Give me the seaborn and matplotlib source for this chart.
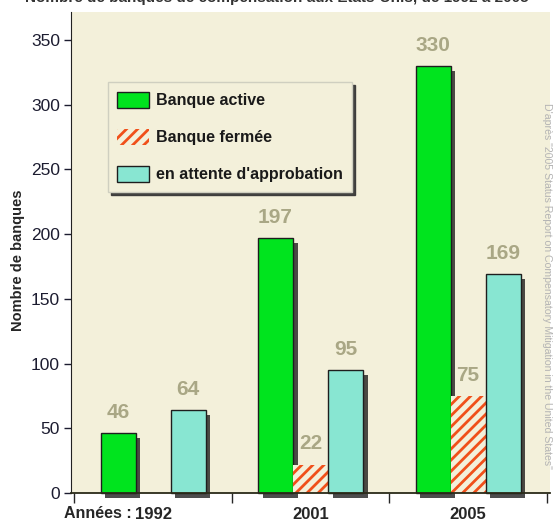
import numpy as np
import pandas as pd
import matplotlib
matplotlib.use("Agg")
import matplotlib.pyplot as plt
import matplotlib.patheffects as pe
from matplotlib.patches import Patch
import seaborn as sns

# Data
years = ["1992", "2001", "2005"]
statuts = ["Banque active", "Banque fermée", "en attente d'approbation"]
actives = [46, 197, 330]
fermees = [np.nan, 22, 75]
en_attente = [64, 95, 169]

couleurs = {"Banque active": "#00E41E",
            "Banque fermée": "#F3F0DA",
            "en attente d'approbation": "#88E6D2"}
fond = "#F3F0DA"
hachure = "#F0501A"
gris_label = "#A9A785"

rows = []
for i, y in enumerate(years):
    for s, vals in zip(statuts, [actives, fermees, en_attente]):
        if not np.isnan(vals[i]):
            rows.append({"Année": y, "statut": s, "n": vals[i]})
df = pd.DataFrame(rows)

sns.set_style("ticks")
plt.rcParams["font.family"] = ["Liberation Sans", "DejaVu Sans"]
plt.rcParams["hatch.linewidth"] = 2.0

fig = plt.figure(figsize=(5.54, 5.22), dpi=100)
ax = fig.add_axes([71 / 554, 29 / 522, 479 / 554, 481 / 522])
ax.set_facecolor(fond)

sns.barplot(data=df, x="Année", y="n", hue="statut", hue_order=statuts,
            order=years, palette=couleurs, width=0.667, gap=0,
            saturation=1, edgecolor="#1e1e1e", linewidth=1, legend=False,
            ax=ax)

shadow = [pe.SimplePatchShadow(offset=(3.5, -3.5), shadow_rgbFace="#111111",
                               alpha=0.75), pe.Normal()]
for cont, s in zip(ax.containers, statuts):
    for bar in cont:
        bar.set_clip_on(False)
        if s == "Banque fermée":
            bar.set_hatch("///")
            bar.set_edgecolor(hachure)
            bar.set_linewidth(0.0)
        else:
            bar.set_path_effects(shadow)
    ax.bar_label(cont, padding=8, color=gris_label, fontsize=15,
                 fontweight="bold")

ax.set_xlim(-0.521, 2.52)
ax.set_ylim(0, 371.6)
ax.set_yticks(range(0, 351, 50))
ax.tick_params(axis="y", length=5, width=1, labelsize=12.5, colors="#1c1c30",
               pad=3)
ax.set_xticks(range(3))
ax.set_xticklabels(years)
ax.tick_params(axis="x", length=0, labelsize=12, pad=10)
for t in ax.get_xticklabels():
    t.set_fontweight("bold")
ax.set_xticks([-0.5, 0.5, 1.5, 2.5], minor=True)
ax.tick_params(axis="x", which="minor", length=7, width=1, direction="out")

ax.set_xlabel("")
ax.set_ylabel("")
sns.despine(ax=ax, top=True, right=True)
ax.spines["left"].set_color("#222222")
ax.spines["bottom"].set_color("#2a2a18")
ax.spines["bottom"].set_linewidth(1.3)

fig.text(64 / 554, 9 / 522, "Années :", fontsize=11.5, fontweight="bold",
         va="center", ha="left")
fig.text(18 / 554, 262 / 522, "Nombre de banques", rotation=90,
         fontsize=10.5, fontweight="bold", va="center", ha="center")
fig.text(0.5, 0.996, "Nombre de banques de compensation aux Etats-Unis, de 1992 à 2005",
         fontsize=11, fontweight="bold", ha="center", va="baseline",
         color="#333333")

ax.text(0.994, 0.43,
        "D'après \"2005 Status Report on Compensatory Mitigation in the United States\"",
        transform=ax.transAxes, rotation=270, fontsize=7.6, color="#B4B4B4",
        ha="center", va="center")

handles = [Patch(facecolor=couleurs["Banque active"], edgecolor="#1e1e1e"),
           Patch(facecolor=fond, edgecolor=hachure, hatch="///", linewidth=0),
           Patch(facecolor=couleurs["en attente d'approbation"],
                 edgecolor="#1e1e1e")]
leg = ax.legend(handles, statuts, loc="upper left",
                bbox_to_anchor=(0.077, 0.854), frameon=True, fancybox=False,
                facecolor=fond, edgecolor="#cfcfc0", framealpha=1,
                shadow={"color": "#333333", "alpha": 0.9},
                prop={"weight": "bold", "size": 11.5},
                handlelength=2.0, handleheight=1.15, labelspacing=1.3,
                handletextpad=0.4, borderpad=0.6, borderaxespad=0)
for t in leg.get_texts():
    t.set_color("#1a1a1a")

plt.savefig("out.png", dpi=100)
